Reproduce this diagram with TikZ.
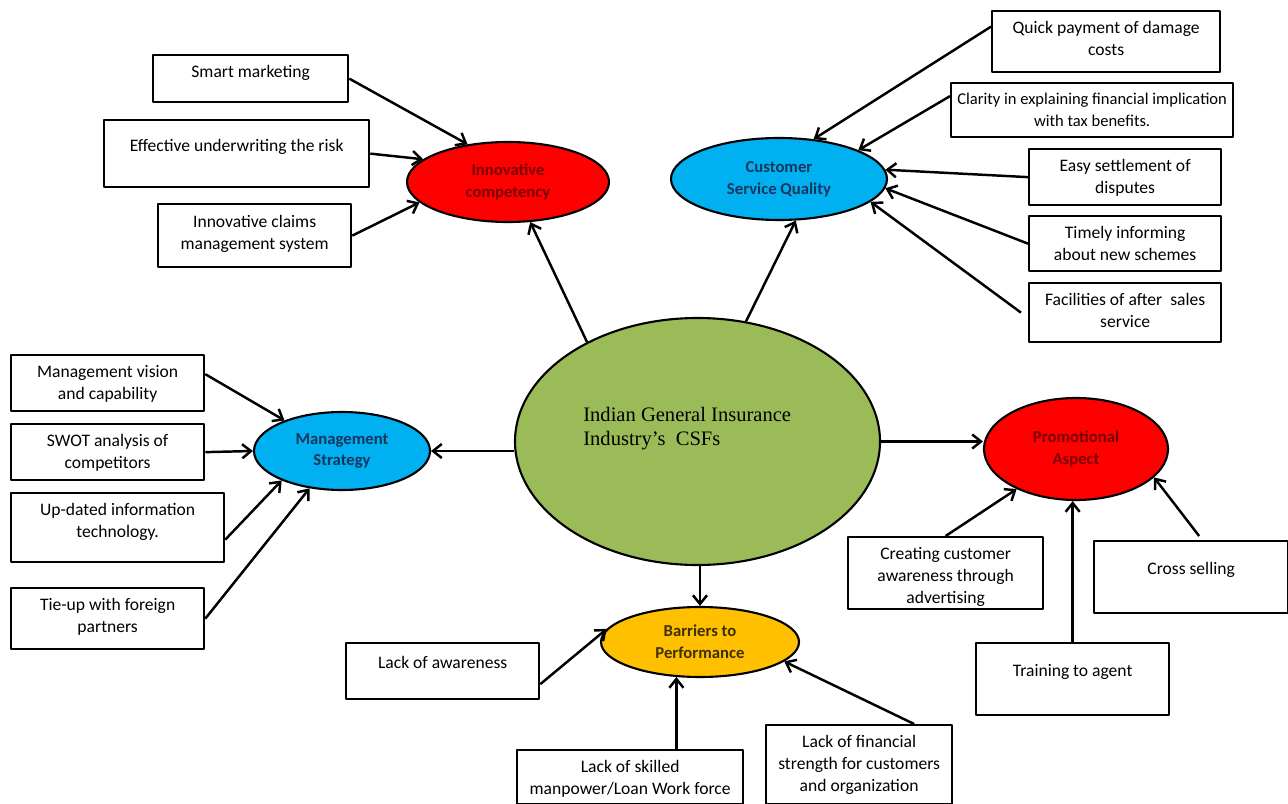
\documentclass[tikz,border=0pt]{standalone}
\usepackage{fontspec}
\setmainfont{Carlito}
\newfontfamily\csffont{Liberation Serif}
\usepackage{xcolor}
\usepackage{tikz}
\usetikzlibrary{positioning,calc,shapes,arrows.meta}

\definecolor{innred}{HTML}{FF0000}
\definecolor{innredtext}{HTML}{7A0000}
\definecolor{cusblue}{HTML}{00B0F0}
\definecolor{cusbluetext}{HTML}{17365D}
\definecolor{csfgreen}{HTML}{9BBB59}
\definecolor{barorange}{HTML}{FFC000}
\definecolor{barorangetext}{HTML}{3F3000}

\newlength{\pxu}
\setlength{\pxu}{0.02cm}

\begin{document}
\begin{tikzpicture}[x=0.02cm, y=-0.02cm, line join=round,
  box/.style={draw=black, line width=1.3pt, anchor=north west, inner sep=0pt, font=\fontsize{10}{12.5}\selectfont},
  factor/.style={ellipse, draw=black, line width=1.2pt, inner sep=0pt, align=center, font=\fontsize{9.5}{12.5}\selectfont\bfseries},
  arr/.style={-{Straight Barb[length=5pt,width=8pt]}, line width=1.4pt}]

  % #1 is gap above the text
  % #2 is width, #3 is height
  % #4 is the text
  \newcommand{\boxtext}[4][7]{\parbox[t][#3\pxu][t]{#2\pxu}{\centering\vspace*{#1\pxu}\strut #4}}

  \useasboundingbox (0,0) rectangle (1288,804);

  % the five factors round the industry
  \node[factor, fill=csfgreen, minimum width=365\pxu, minimum height=247\pxu] (cen) at (697.5,441.5) {};
  \node[anchor=north west, inner sep=0pt, align=left, font=\csffont\fontsize{11.7}{13.6}\selectfont] (csf) at (583,407) {Indian General Insurance\\Industry’s\ \ CSFs};

  \node[factor, fill=innred, text=innredtext, minimum width=202\pxu, minimum height=80\pxu] (inn) at (508,182) {Innovative\\competency};
  \node[factor, fill=cusblue, text=cusbluetext, minimum width=216\pxu, minimum height=82\pxu] (csq) at (779,179) {Customer\\Service Quality};
  \node[factor, fill=cusblue, text=cusbluetext, minimum width=176\pxu, minimum height=78\pxu] (mgs) at (342,451) {Management\\Strategy};
  \node[factor, fill=innred, text=innredtext, minimum width=184\pxu, minimum height=102\pxu] (pro) at (1076,449) {Promotional\\Aspect};
  \node[factor, fill=barorange, text=barorangetext, minimum width=198\pxu, minimum height=70\pxu] (bar) at (700,642) {Barriers to\\Performance};

  % innovative competency
  \node[box] (smk) at (152,54) {\boxtext{195}{47}{Smart marketing}};
  \node[box] (eff) at (103,119) {\boxtext[16]{265}{67}{Effective underwriting the risk}};
  \node[box] (icl) at (157,203) {\boxtext[8]{193}{63}{Innovative claims\\management system}};

  % customer service quality
  \node[box] (qpd) at (991,10) {\boxtext{228}{61}{Quick payment of damage\\costs}};
  \node[box, font=\fontsize{9.4}{12.5}\selectfont] (clr) at (950,82) {\boxtext[6]{282}{54}{\makebox[0pt]{Clarity in explaining financial implication}\\with tax benefits.}};
  \node[box] (est) at (1028,148) {\boxtext{192}{56}{Easy settlement of\\disputes}};
  \node[box] (tin) at (1028,215) {\boxtext{192}{55}{Timely informing\\about new schemes}};
  \node[box] (fas) at (1028,282) {\boxtext{192}{59}{Facilities of after\ \ sales\\service}};

  % management strategy
  \node[box] (mvc) at (10,354) {\boxtext{193}{56}{Management vision\\and capability}};
  \node[box] (swt) at (10,423) {\boxtext{193}{56}{SWOT analysis of\\competitors}};
  \node[box] (uit) at (10,492) {\boxtext{213}{69}{Up-dated information\\technology.}};
  \node[box] (tfp) at (10,587) {\boxtext{193}{61}{Tie-up with foreign\\partners}};

  % promotional aspect
  \node[box] (cca) at (847,536) {\boxtext{195}{72}{Creating customer\\awareness through\\advertising}};
  \node[box] (crs) at (1093,540) {\boxtext[18]{194}{72}{Cross selling}};
  \node[box] (tra) at (975,642) {\boxtext[18]{193}{72}{Training to agent}};

  % barriers to performance
  \node[box] (law) at (345,642) {\boxtext[10]{193}{56}{Lack of awareness}};
  \node[box] (skl) at (516,749) {\boxtext{226}{54}{Lack of skilled\\manpower/Loan Work force}};
  \node[box] (lfs) at (765,724) {\boxtext{186}{79}{Lack of financial\\strength for customers\\and organization}};

  \draw[arr] (smk.east) -- (inn.137);
  \draw[arr] (eff.east) -- (inn.165);
  \draw[arr] (icl.east) -- (inn.193);
  \draw[arr] (cen.138) -- (inn.299);

  \draw[arr] (cen.68) -- (csq.292);
  \draw[arr] ($(qpd.west)+(0,-15)$) -- (csq.49);
  \draw[arr] ($(clr.west)+(0,-14)$) -- (csq.20);
  \draw[arr] (est.west) -- (csq.5);
  \draw[arr] (tin.west) -- (csq.355);
  \draw[arr] ($(fas.west)+(-7,0)$) -- (csq.346);

  \draw[arr] (cen.west |- mgs.east) -- (mgs.east);
  \draw[arr] ($(mvc.east)+(0,-9)$) -- (mgs.152);
  \draw[arr] (swt.east) -- (mgs.west);
  \draw[arr] ($(uit.east)+(0,12)$) -- (mgs.206);
  \draw[arr] (tfp.east) -- (mgs.229);

  \draw[arr] (cen.east) -- (cen.east -| pro.west);
  \draw[arr] (cca.north) -- (pro.214);
  \draw[arr] ($(crs.north)+(8,-4)$) -- (pro.340);
  \draw[arr] (tra.north) -- (tra.north |- pro.south);

  \draw[arr] (cen.south -| bar.north) -- (bar.north);
  \draw[arr] ($(law.east)+(0,13)$) -- (bar.172);
  \draw[arr] (skl.north -| bar.236) -- (bar.236);
  \draw[arr] ($(lfs.north)+(55,0)$) -- (bar.347);

\end{tikzpicture}
\end{document}
